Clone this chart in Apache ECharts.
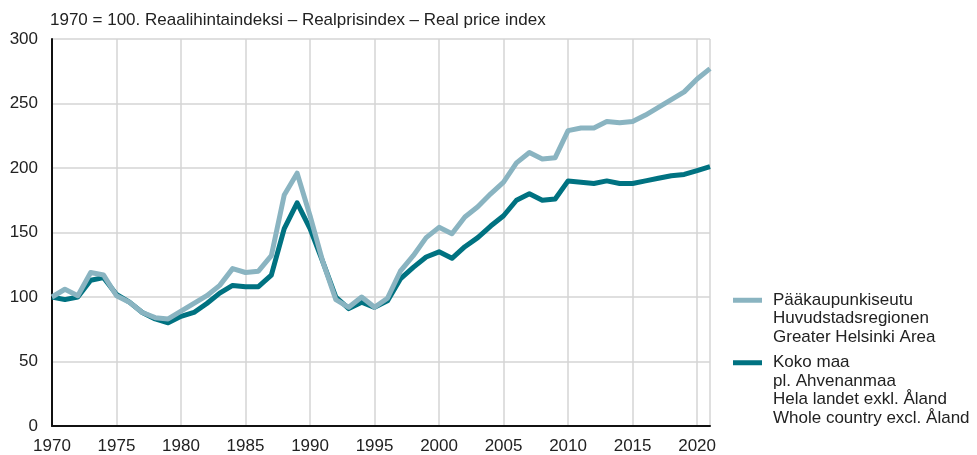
<!DOCTYPE html>
<html>
<head>
<meta charset="utf-8">
<script src="https://cdn.jsdelivr.net/npm/echarts@6/dist/echarts.min.js"></script>
<style>
  html, body { margin: 0; padding: 0; background: #fff; }
  #chart { width: 977px; height: 455px; }
</style>
</head>
<body>
<div id="chart"></div>
<script>
// Reaalihintaindeksi, 1970 = 100
const years = [
  1970, 1971, 1972, 1973, 1974, 1975, 1976, 1977, 1978, 1979,
  1980, 1981, 1982, 1983, 1984, 1985, 1986, 1987, 1988, 1989,
  1990, 1991, 1992, 1993, 1994, 1995, 1996, 1997, 1998, 1999,
  2000, 2001, 2002, 2003, 2004, 2005, 2006, 2007, 2008, 2009,
  2010, 2011, 2012, 2013, 2014, 2015, 2016, 2017, 2018, 2019,
  2020, 2021
];
const helsinki = [
  100, 106, 101, 119, 117, 101, 96, 88, 84, 83,
  89, 95, 101, 109, 122, 119, 120, 132, 179, 196,
  163, 127, 98, 92, 100, 92, 99, 120, 132, 146,
  154, 149, 162, 170, 180, 189, 204, 212, 207, 208,
  229, 231, 231, 236, 235, 236, 241, 247, 253, 259,
  269, 277
];
const koko = [
  100, 98, 100, 113, 115, 102, 96, 88, 83, 80,
  85, 88, 95, 103, 109, 108, 108, 117, 153, 173,
  153, 127, 100, 91, 96, 92, 97, 114, 123, 131,
  135, 130, 139, 146, 155, 163, 175, 180, 175, 176,
  190, 189, 188, 190, 188, 188, 190, 192, 194, 195,
  198, 201
];
const yTicks = { min: 0, max: 300, interval: 50 };
const xTicks = { min: 1970, max: 2021, interval: 5 };
const nameHelsinki = 'Pääkaupunkiseutu\nHuvudstadsregionen\nGreater Helsinki Area';
const nameKoko = 'Koko maa\npl. Ahvenanmaa\nHela landet exkl. Åland\nWhole country excl. Åland';

const font = '"Liberation Sans", Arial, sans-serif';
const lightColor = '#8ab4c1';
const darkColor = '#007281';

let myChart = echarts.init(document.getElementById('chart'));

// legend text: pad with blank lines above so the icon sits next to the first line
function legendFor (name, top) {
  const lines = name.split('\n').length;
  return {
    data: [name],
    orient: 'vertical',
    left: 733,
    top: top,
    padding: 0,
    itemWidth: 29,
    itemHeight: 5,
    itemGap: 0,
    icon: 'rect',
    formatter: (n) => '\n'.repeat(lines - 1) + n,
    textStyle: {
      fontFamily: font,
      fontSize: 17,
      lineHeight: 18.5,
      color: '#222',
      padding: [0, 0, 0, 6]
    }
  };
}

myChart.setOption({
  animation: false,
  title: {
    text: '1970 = 100. Reaalihintaindeksi – Realprisindex – Real price index',
    left: 45,
    top: 7,
    textStyle: {
      fontFamily: font,
      fontSize: 17,
      fontWeight: 'normal',
      color: '#222'
    }
  },
  legend: [
    legendFor(nameHelsinki, 300 - 46),
    legendFor(nameKoko, 363 - 65)
  ],
  grid: {
    left: 52,
    right: 267,
    top: 39,
    bottom: 29
  },
  xAxis: {
    type: 'value',
    min: xTicks.min,
    max: xTicks.max,
    interval: xTicks.interval,
    axisLine: { onZero: false, lineStyle: { color: '#111', width: 2 } },
    axisTick: { show: false },
    axisLabel: {
      fontFamily: font,
      fontSize: 17,
      color: '#222',
      margin: 12,
      showMaxLabel: false,
      formatter: (v) => (v % 5 === 0 ? String(v) : '')
    },
    splitLine: { show: true, lineStyle: { color: '#d4d4d4', width: 1.5 } }
  },
  yAxis: {
    type: 'value',
    min: yTicks.min,
    max: yTicks.max,
    interval: yTicks.interval,
    axisLine: { show: true, lineStyle: { color: '#111', width: 2 } },
    axisTick: { show: false },
    axisLabel: {
      fontFamily: font,
      fontSize: 17,
      color: '#222',
      margin: 14
    },
    splitLine: { show: true, lineStyle: { color: '#d4d4d4', width: 1.5 } }
  },
  series: [
    {
      name: nameHelsinki,
      type: 'line',
      data: years.map((y, i) => [y, helsinki[i]]),
      showSymbol: false,
      lineStyle: { color: lightColor, width: 5, join: 'round' },
      itemStyle: { color: lightColor },
      z: 3
    },
    {
      name: nameKoko,
      type: 'line',
      data: years.map((y, i) => [y, koko[i]]),
      showSymbol: false,
      lineStyle: { color: darkColor, width: 5, join: 'round' },
      itemStyle: { color: darkColor },
      z: 2
    }
  ]
});
</script>
</body>
</html>
